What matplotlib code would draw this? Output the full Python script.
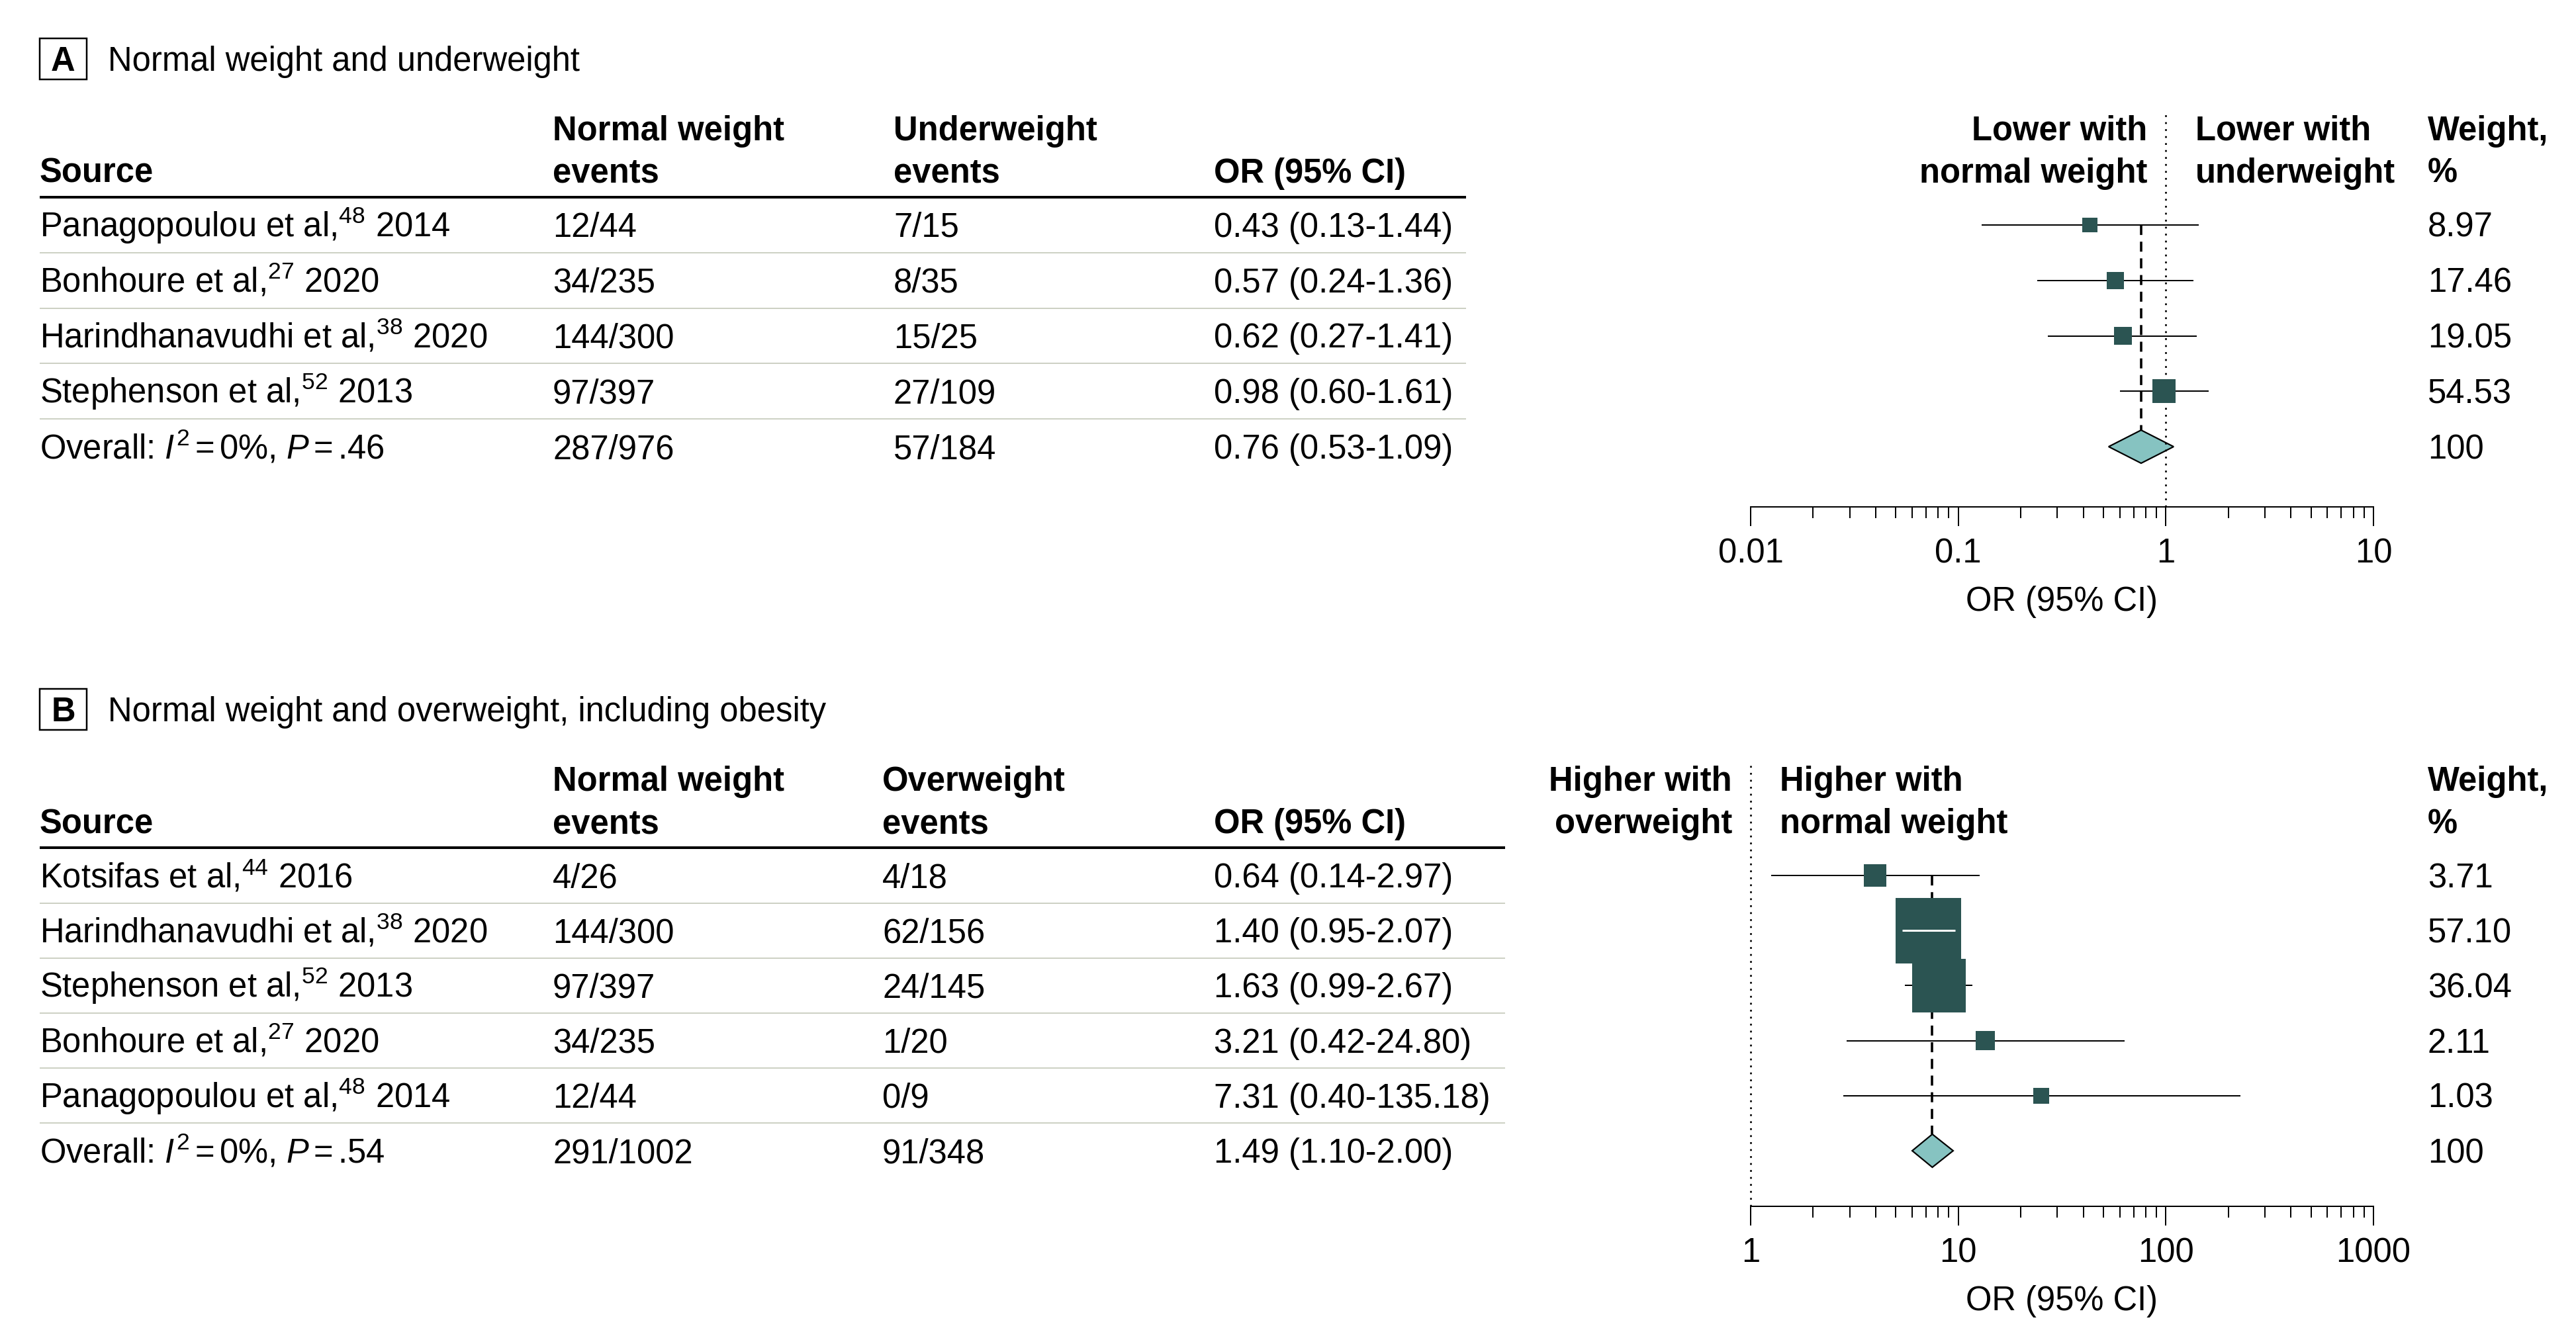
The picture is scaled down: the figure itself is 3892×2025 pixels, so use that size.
import numpy as np
import matplotlib
matplotlib.use('Agg')
import matplotlib.pyplot as plt
from matplotlib.patches import Rectangle, Polygon
from matplotlib.ticker import FixedLocator, FixedFormatter, LogLocator, NullFormatter

plt.rcParams['font.family'] = ['Liberation Sans', 'DejaVu Sans']
plt.rcParams['mathtext.fontset'] = 'custom'
plt.rcParams['mathtext.rm'] = 'Liberation Sans'
plt.rcParams['mathtext.it'] = 'Liberation Sans:italic'
plt.rcParams['mathtext.bf'] = 'Liberation Sans:bold'

# ---- panel A: normal weight vs underweight
a_sources = ['Panagopoulou et al,', 'Bonhoure et al,', 'Harindhanavudhi et al,', 'Stephenson et al,']
a_refs = ['48', '27', '38', '52']
a_years = ['2014', '2020', '2020', '2013']
a_normal_events = ['12/44', '34/235', '144/300', '97/397', '287/976']
a_other_events = ['7/15', '8/35', '15/25', '27/109', '57/184']
a_or = [0.43, 0.57, 0.62, 0.98]
a_lo = [0.13, 0.24, 0.27, 0.60]
a_hi = [1.44, 1.36, 1.41, 1.61]
a_weight = [8.97, 17.46, 19.05, 54.53]
a_overall = [0.76, 0.53, 1.09]
a_i2, a_p = '0%', '.46'

# ---- panel B: normal weight vs overweight incl. obesity
b_sources = ['Kotsifas et al,', 'Harindhanavudhi et al,', 'Stephenson et al,', 'Bonhoure et al,',
             'Panagopoulou et al,']
b_refs = ['44', '38', '52', '27', '48']
b_years = ['2016', '2020', '2013', '2020', '2014']
b_normal_events = ['4/26', '144/300', '97/397', '34/235', '12/44', '291/1002']
b_other_events = ['4/18', '62/156', '24/145', '1/20', '0/9', '91/348']
b_or = [0.64, 1.40, 1.63, 3.21, 7.31]
b_lo = [0.14, 0.95, 0.99, 0.42, 0.40]
b_hi = [2.97, 2.07, 2.67, 24.80, 135.18]
b_weight = [3.71, 57.10, 36.04, 2.11, 1.03]
b_overall = [1.49, 1.10, 2.00]
b_i2, b_p = '0%', '.54'
# the published panel B marks do not sit at the printed ORs; these are
# the positions
b_drawn_or = [3.98, 7.19, 8.07, 13.5, 25.1]
b_drawn_lo = [1.26, 5.37, 5.54, 2.90, 2.79]
b_drawn_hi = [12.7, 9.69, 11.7, 63.3, 228.0]
b_drawn_overall = [7.5, 6.0, 9.45]

W, H = 3892, 2025
FS = 36.5
BOX_C = '#2b5452'
DIAM_C = '#86c3c1'
SEP_C = '#c8ccbe'
PX = 0.72  # points per pixel at dpi 100

fig = plt.figure(figsize=(W / 100, H / 100), dpi=100)
cv = fig.add_axes([0, 0, 1, 1])
cv.set_xlim(0, W)
cv.set_ylim(H, 0)
cv.axis('off')


def txt(x, y, s, bold=False, ha='left'):
    # y is the middle of the capitals
    cv.text(x, y + 18, s, ha=ha, va='baseline', fontsize=FS,
            fontweight='bold' if bold else 'normal')


def draw_table(letter, title, row0, pitch, col_x, other_head, sources, refs, years,
               ev1, ev2, ors, los, his, overall, i2, p, rule_end):
    tc = row0 - 251
    cv.add_patch(Rectangle((60, tc - 31), 71, 62, fill=False, edgecolor='black', lw=2.5 * PX))
    txt(95.5, tc, letter, bold=True, ha='center')
    txt(163, tc, title)

    h1, h2 = row0 - 146, row0 - 82
    txt(col_x[0], h2, 'Source', bold=True)
    txt(col_x[1], h1, 'Normal weight', bold=True)
    txt(col_x[1], h2, 'events', bold=True)
    txt(col_x[2], h1, other_head, bold=True)
    txt(col_x[2], h2, 'events', bold=True)
    txt(col_x[3], h2, 'OR (95% CI)', bold=True)
    cv.plot([60, rule_end], [row0 - 42, row0 - 42], color='black', lw=4 * PX, solid_capstyle='butt')

    n = len(sources)
    for i in range(n + 1):
        y = row0 + i * pitch
        if i < n:
            txt(col_x[0], y, sources[i] + '${}^{' + refs[i] + '}$ ' + years[i])
            txt(col_x[3], y, '%.2f (%.2f-%.2f)' % (ors[i], los[i], his[i]))
        else:
            txt(col_x[0], y, r'Overall: $I^{2}\,$=$\,$' + i2 + r', $P\,$=$\,$' + p)
            txt(col_x[3], y, '%.2f (%.2f-%.2f)' % tuple(overall))
        txt(col_x[1], y, ev1[i])
        txt(col_x[2], y, ev2[i])
        if i < n:
            cv.plot([60, rule_end], [y + pitch / 2, y + pitch / 2], color=SEP_C, lw=1.8 * PX,
                    solid_capstyle='butt')


def draw_forest(row0, pitch, axis_y, xlim, ticklabels, ors, los, his, weights, overall,
                size_a, size_b, left_head, right_head, head_x):
    left, right = 2645, 3586
    top_px = row0 - 200
    ax = fig.add_axes([left / W, 1 - axis_y / H, (right - left) / W, (axis_y - top_px) / H])
    ax.set_xscale('log')
    ax.set_xlim(xlim)
    ax.set_ylim((axis_y - row0) / pitch, (top_px - row0) / pitch)
    ax.patch.set_alpha(0)
    dec_px = (right - left) / np.log10(xlim[1] / xlim[0])

    n = len(ors)
    for i in range(n):
        side = size_a + size_b * np.sqrt(weights[i])
        hd = side / 2 / dec_px
        x0, x1 = ors[i] * 10 ** (-hd), ors[i] * 10 ** hd
        hh = side / 2 / pitch
        inside = los[i] >= x0 and his[i] <= x1
        if not inside:
            ax.plot([los[i], his[i]], [i, i], color='black', lw=2 * PX, zorder=3,
                    solid_capstyle='butt')
        ax.add_patch(Rectangle((x0, i - hh), x1 - x0, 2 * hh, facecolor=BOX_C,
                               edgecolor='none', zorder=5))
        if inside:
            ax.plot([los[i], his[i]], [i, i], color='white', lw=3 * PX, zorder=6,
                    solid_capstyle='butt')

    dh = 25 / pitch
    ax.add_patch(Polygon([(overall[1], n), (overall[0], n - dh), (overall[2], n),
                          (overall[0], n + dh)], closed=True, facecolor=DIAM_C,
                         edgecolor='black', lw=2.2 * PX, zorder=2))
    ax.plot([overall[0], overall[0]], [0, n - dh], color='black', lw=3.6 * PX,
            ls=(0, (4.2, 2.8)), zorder=1)
    ax.plot([1, 1], [(axis_y - row0) / pitch, -169 / pitch], color='black', lw=2.7 * PX,
            ls=(0, (1, 2.9)), zorder=4, clip_on=False)

    for s in ['top', 'left', 'right']:
        ax.spines[s].set_visible(False)
    ax.spines['bottom'].set_linewidth(2 * PX)
    ax.set_yticks([])
    ax.xaxis.set_major_locator(FixedLocator([xlim[0] * 10 ** k for k in range(4)]))
    ax.xaxis.set_major_formatter(FixedFormatter(ticklabels))
    ax.xaxis.set_minor_locator(LogLocator(base=10, subs=np.arange(2, 10)))
    ax.xaxis.set_minor_formatter(NullFormatter())
    ax.tick_params(axis='x', which='major', length=29 * PX, width=2 * PX, pad=12.5,
                   labelsize=FS)
    ax.tick_params(axis='x', which='minor', length=16.5 * PX, width=2 * PX)
    ax.set_xlabel('OR (95% CI)', fontsize=FS, labelpad=17)

    h1, h2 = row0 - 146, row0 - 82
    txt(head_x[0], h1, left_head[0], bold=True, ha='right')
    txt(head_x[0], h2, left_head[1], bold=True, ha='right')
    txt(head_x[1], h1, right_head[0], bold=True)
    txt(head_x[1], h2, right_head[1], bold=True)
    txt(3668, h1, 'Weight,', bold=True)
    txt(3668, h2, '%', bold=True)
    for i in range(n):
        txt(3668, row0 + i * pitch, '%.2f' % weights[i])
    txt(3668, row0 + n * pitch, '100')


# panel A
draw_table('A', 'Normal weight and underweight', 340, 83.75, [60, 835, 1350, 1834],
           'Underweight', a_sources, a_refs, a_years, a_normal_events, a_other_events,
           a_or, a_lo, a_hi, a_overall, a_i2, a_p, 2215)
draw_forest(340, 83.75, 766, (0.01, 10), ['0.01', '0.1', '1', '10'],
            a_or, a_lo, a_hi, a_weight, a_overall, 13.5, 3.0,
            ['Lower with', 'normal weight'], ['Lower with', 'underweight'], [3244, 3317])

# panel B
draw_table('B', 'Normal weight and overweight, including obesity', 1323, 83.2,
           [60, 835, 1333, 1834], 'Overweight', b_sources, b_refs, b_years,
           b_normal_events, b_other_events, b_or, b_lo, b_hi, b_overall, b_i2, b_p, 2274)
draw_forest(1323, 83.2, 1823, (1, 1000), ['1', '10', '100', '1000'],
            b_drawn_or, b_drawn_lo, b_drawn_hi, b_weight, b_drawn_overall, 12.6, 11.4,
            ['Higher with', 'overweight'], ['Higher with', 'normal weight'], [2617, 2689])

fig.savefig('out.png', dpi=100)
